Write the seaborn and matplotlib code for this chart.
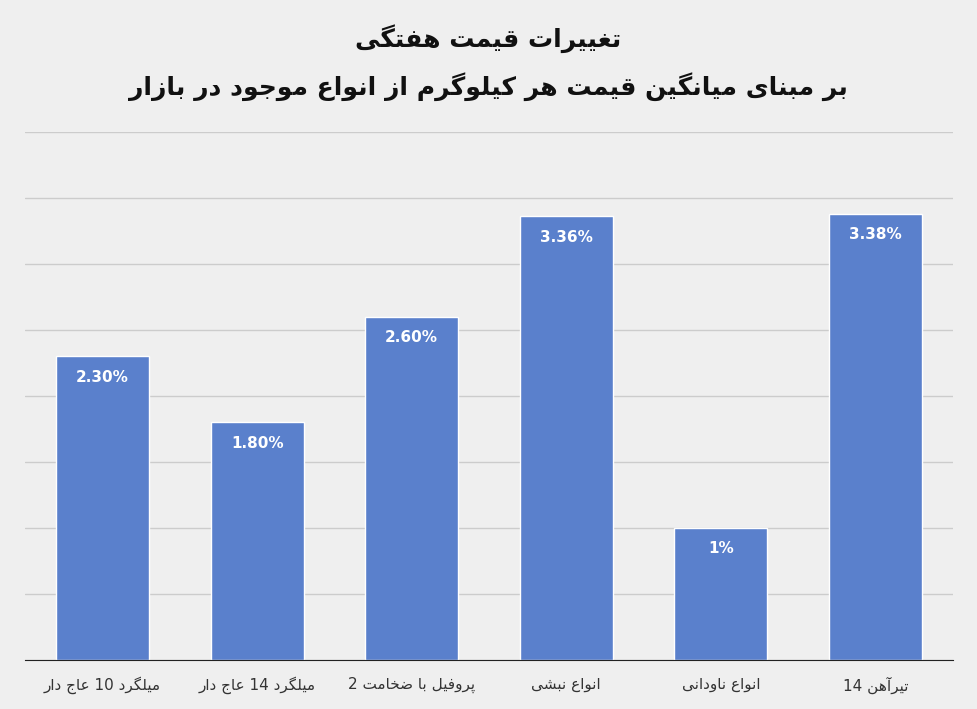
import matplotlib
matplotlib.use("Agg")
import matplotlib.pyplot as plt
import seaborn as sns
import pandas as pd

categories = ["میلگرد 10 عاج دار", "میلگرد 14 عاج دار", "پروفیل با ضخامت 2",
              "انواع نبشی", "انواع ناودانی", "تیرآهن 14"]
values = [2.30, 1.80, 2.60, 3.36, 1.00, 3.38]
value_labels = ["2.30%", "1.80%", "2.60%", "3.36%", "1%", "3.38%"]
title1 = "تغییرات قیمت هفتگی"
title2 = "بر مبنای میانگین قیمت هر کیلوگرم از انواع موجود در بازار"

# minimal Persian shaper: (isolated, final, initial, medial); 2-form letters don't join forward
FORMS = {
    'ا': (0xFE8D, 0xFE8E), 'آ': (0xFE81, 0xFE82), 'د': (0xFEA9, 0xFEAA),
    'ر': (0xFEAD, 0xFEAE), 'ز': (0xFEAF, 0xFEB0), 'و': (0xFEED, 0xFEEE),
    'ب': (0xFE8F, 0xFE90, 0xFE91, 0xFE92), 'پ': (0xFB56, 0xFB57, 0xFB58, 0xFB59),
    'ت': (0xFE95, 0xFE96, 0xFE97, 0xFE98), 'ج': (0xFE9D, 0xFE9E, 0xFE9F, 0xFEA0),
    'خ': (0xFEA5, 0xFEA6, 0xFEA7, 0xFEA8), 'ش': (0xFEB5, 0xFEB6, 0xFEB7, 0xFEB8),
    'ض': (0xFEBD, 0xFEBE, 0xFEBF, 0xFEC0), 'ع': (0xFEC9, 0xFECA, 0xFECB, 0xFECC),
    'غ': (0xFECD, 0xFECE, 0xFECF, 0xFED0), 'ف': (0xFED1, 0xFED2, 0xFED3, 0xFED4),
    'ق': (0xFED5, 0xFED6, 0xFED7, 0xFED8), 'ک': (0xFB8E, 0xFB8F, 0xFB90, 0xFB91),
    'گ': (0xFB92, 0xFB93, 0xFB94, 0xFB95), 'ل': (0xFEDD, 0xFEDE, 0xFEDF, 0xFEE0),
    'م': (0xFEE1, 0xFEE2, 0xFEE3, 0xFEE4), 'ن': (0xFEE5, 0xFEE6, 0xFEE7, 0xFEE8),
    'ه': (0xFEE9, 0xFEEA, 0xFEEB, 0xFEEC), 'ی': (0xFBFC, 0xFBFD, 0xFBFE, 0xFBFF),
}

def shape_word(w):
    if not any(c in FORMS for c in w):
        return w
    out = []
    for i, c in enumerate(w):
        f = FORMS.get(c)
        if f is None:
            out.append(c); continue
        prev = w[i-1] if i > 0 else None
        nxt = w[i+1] if i + 1 < len(w) else None
        jp = prev in FORMS and len(FORMS[prev]) == 4
        jn = nxt in FORMS and len(f) == 4
        if jp and jn: g = f[3]
        elif jp: g = f[1]
        elif jn: g = f[2]
        else: g = f[0]
        out.append(chr(g))
    return ''.join(reversed(out))

def rtl(s):
    return ' '.join(shape_word(w) for w in reversed(s.split(' ')))

sns.set_style("white")
plt.rcParams['font.family'] = ['DejaVu Sans']

df = pd.DataFrame({"cat": [rtl(c) for c in categories], "val": values})
fig = plt.figure(figsize=(9.77, 7.09), dpi=100, facecolor='#efefef')
ax = fig.add_axes([0.026, 0.069, 0.949, 0.745])
ax.set_facecolor('#efefef')
sns.barplot(data=df, x="cat", y="val", color='#5a80cc', width=0.6, saturation=1, ax=ax)
ax.set_ylim(0, 4.0)
ax.set_yticks([i * 0.5 for i in range(9)])
ax.set_yticklabels([])
ax.tick_params(axis='y', length=0)
ax.tick_params(axis='x', length=0, pad=12, labelsize=11, colors='#333333')
ax.grid(axis='y', color='#cccccc', linewidth=1)
ax.set_axisbelow(True)
for s in ['top', 'right', 'left']:
    ax.spines[s].set_visible(False)
ax.spines['bottom'].set_color('#222222')
ax.set_xlabel(""); ax.set_ylabel("")
for p, lab in zip(ax.patches, value_labels):
    ax.text(p.get_x() + p.get_width() / 2, p.get_height() - 0.1, lab,
            ha='center', va='top', color='white', fontsize=11, fontweight='bold')
fig.text(0.5, 0.945, rtl(title1), ha='center', va='center', fontsize=18, fontweight='bold', color='#111111')
fig.text(0.5, 0.878, rtl(title2), ha='center', va='center', fontsize=18, fontweight='bold', color='#111111')
fig.savefig("out.png", dpi=100, facecolor=fig.get_facecolor())
